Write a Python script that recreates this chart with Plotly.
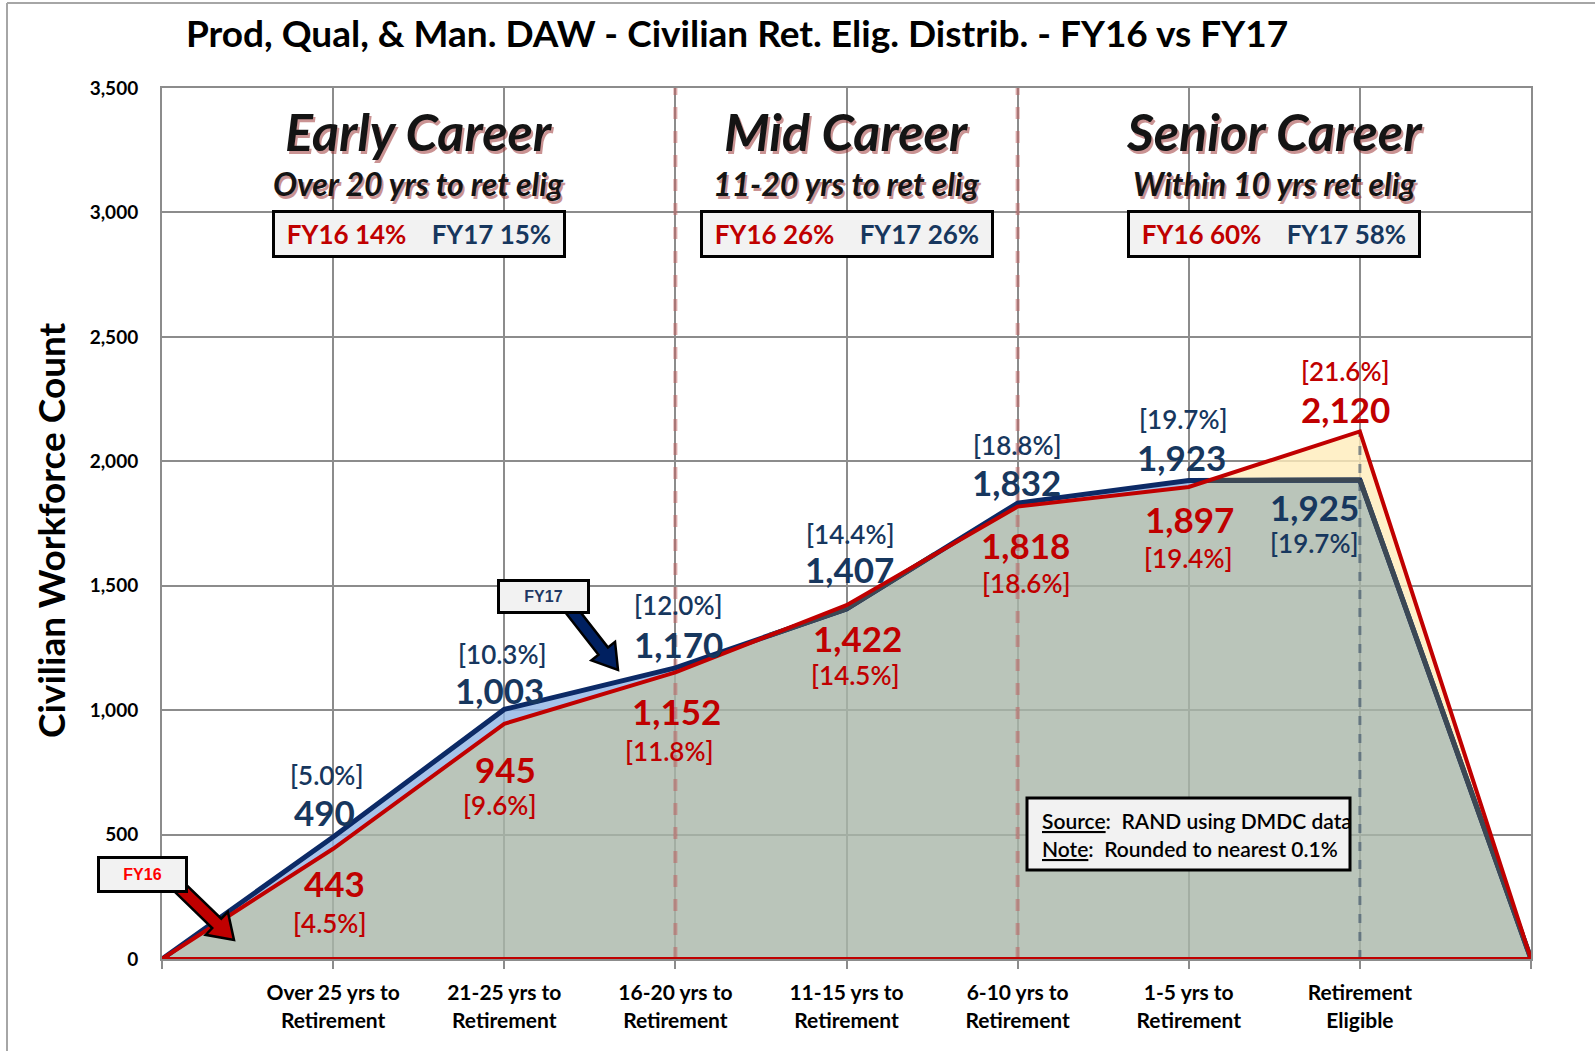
import math
import plotly.graph_objects as go

# ---------------- data ----------------
categories = ["Over 25 yrs to Retirement", "21-25 yrs to Retirement", "16-20 yrs to Retirement",
              "11-15 yrs to Retirement", "6-10 yrs to Retirement", "1-5 yrs to Retirement",
              "Retirement Eligible"]
tick_labels = ["Over 25 yrs to<br>Retirement", "21-25 yrs to<br>Retirement", "16-20 yrs to<br>Retirement",
               "11-15 yrs to<br>Retirement", "6-10 yrs to<br>Retirement", "1-5 yrs to<br>Retirement",
               "Retirement<br>Eligible"]
fy16_counts = [443, 945, 1152, 1422, 1818, 1897, 2120]
fy17_counts = [490, 1003, 1170, 1407, 1832, 1923, 1925]
fy16_pct = ["4.5%", "9.6%", "11.8%", "14.5%", "18.6%", "19.4%", "21.6%"]
fy17_pct = ["5.0%", "10.3%", "12.0%", "14.4%", "18.8%", "19.7%", "19.7%"]
career_titles = ["Early Career", "Mid Career", "Senior Career"]
career_subtitles = ["Over 20 yrs to ret elig", "11-20 yrs to ret elig", "Within 10 yrs ret elig"]
career_fy16_share = ["14%", "26%", "60%"]
career_fy17_share = ["15%", "26%", "58%"]
divider_categories = ["16-20 yrs to Retirement", "6-10 yrs to Retirement"]
dropline_category = "Retirement Eligible"
y_max = 3500
y_step = 500

# ---------------- styles / layout ----------------
W, H = 1595, 1051
L, R, T, B = 162, 1531, 88, 959
FONT = "Lato"
RED = "#C00000"
NAVY_LINE = "#0C2A66"
NAVY_TXT = "#17375E"
SLATE = "#3C4854"
GREY_FILL = "rgba(169,183,169,0.8)"
BLUE_FILL = "rgba(144,180,229,0.8)"
YELLOW_FILL = "rgba(255,236,186,0.8)"
GRID = "#8C8C8C"

career_x = [1.5, 4.0, 6.5]
fy17_value_shift = [(-9, 25), (-5, 19), (3, 24), (3, 40), (-1, 21), (-7, 23), (-45, -27)]
fy17_pct_shift = [(-6, 62), (-2, 55), (3, 63), (4, 75), (0, 58), (-5, 61), (-45, -63)]
fy16_value_shift = [(1, -34), (1, -45), (1, -39), (11, -33), (8, -38), (1, -32), (-14, 22)]
fy16_pct_shift = [(-3, -74), (-4, -81), (-6, -79), (9, -70), (9, -76), (0, -71), (-14, 60)]


def px(xp):
    return (xp - L) / (R - L)


def py(yp):
    return (B - yp) / (B - T)


def arrow_path(tail, tip, shaft=12, head_w=30, head_l=24):
    dx, dy = tip[0] - tail[0], tip[1] - tail[1]
    d = math.hypot(dx, dy)
    ux, uy = dx / d, dy / d
    nx, ny = -uy, ux
    nkx, nky = tip[0] - head_l * ux, tip[1] - head_l * uy
    pts = [(tail[0] + nx * shaft / 2, tail[1] + ny * shaft / 2),
           (nkx + nx * shaft / 2, nky + ny * shaft / 2),
           (nkx + nx * head_w / 2, nky + ny * head_w / 2),
           tip,
           (nkx - nx * head_w / 2, nky - ny * head_w / 2),
           (nkx - nx * shaft / 2, nky - ny * shaft / 2),
           (tail[0] - nx * shaft / 2, tail[1] - ny * shaft / 2)]
    return "M " + " L ".join(f"{px(a):.5f},{py(b):.5f}" for a, b in pts) + " Z"


n = len(categories)
xs = list(range(n + 2))
y16 = [0] + fy16_counts + [0]
y17 = [0] + fy17_counts + [0]

# merged points with crossings (for non-overlapping fills)
mx, m16, m17 = [], [], []
for i in range(len(xs) - 1):
    mx.append(xs[i]); m16.append(y16[i]); m17.append(y17[i])
    d0 = y16[i] - y17[i]
    d1 = y16[i + 1] - y17[i + 1]
    if d0 * d1 < 0:
        t = d0 / (d0 - d1)
        xc = xs[i] + t * (xs[i + 1] - xs[i])
        yc = y16[i] + t * (y16[i + 1] - y16[i])
        mx.append(xc); m16.append(yc); m17.append(yc)
mx.append(xs[-1]); m16.append(y16[-1]); m17.append(y17[-1])
mmin = [min(a, b) for a, b in zip(m16, m17)]

# FY17 line segments hidden behind FY16 fill (drawn slate)
sx, sy = [], []
for i in range(len(mx) - 1):
    if m16[i] >= m17[i] and m16[i + 1] >= m17[i + 1] and (m16[i] > m17[i] or m16[i + 1] > m17[i + 1]):
        sx += [mx[i], mx[i + 1], None]
        sy += [m17[i], m17[i + 1], None]

fig = go.Figure()

# fills
fig.add_trace(go.Scatter(x=mx, y=mmin, mode="lines", line=dict(width=0), fill="tozeroy",
                         fillcolor=GREY_FILL, hoverinfo="skip", showlegend=False))
fig.add_trace(go.Scatter(x=mx, y=m17, mode="lines", line=dict(width=0), fill="tonexty",
                         fillcolor=BLUE_FILL, hoverinfo="skip", showlegend=False))
fig.add_trace(go.Scatter(x=mx, y=mmin, mode="lines", line=dict(width=0),
                         hoverinfo="skip", showlegend=False))
fig.add_trace(go.Scatter(x=mx, y=m16, mode="lines", line=dict(width=0), fill="tonexty",
                         fillcolor=YELLOW_FILL, hoverinfo="skip", showlegend=False))

# divider dashed lines
for c in divider_categories:
    xi = categories.index(c) + 1
    fig.add_trace(go.Scatter(x=[xi, xi], y=[0, y_max], mode="lines",
                             line=dict(color="rgba(192,100,100,0.55)", width=4, dash="dash"),
                             hoverinfo="skip", showlegend=False))
di = categories.index(dropline_category)
fig.add_trace(go.Scatter(x=[di + 1, di + 1], y=[0, fy16_counts[di]], mode="lines",
                         line=dict(color="rgba(60,80,105,0.6)", width=3, dash="dash"),
                         hoverinfo="skip", showlegend=False))

# lines
fig.add_trace(go.Scatter(x=xs, y=y17, mode="lines", line=dict(color=NAVY_LINE, width=5),
                         hoverinfo="skip", showlegend=False))
fig.add_trace(go.Scatter(x=sx, y=sy, mode="lines", line=dict(color=SLATE, width=5),
                         hoverinfo="skip", showlegend=False))
fig.add_trace(go.Scatter(x=xs + [xs[0]], y=y16 + [y16[0]], mode="lines",
                         line=dict(color=RED, width=4), hoverinfo="skip", showlegend=False))

ann = []
# data labels
for i in range(n):
    ann.append(dict(x=i + 1, y=fy17_counts[i], xref="x", yref="y", showarrow=False,
                    xanchor="center", yanchor="middle", borderpad=0,
                    text=f"{fy17_counts[i]:,}", xshift=fy17_value_shift[i][0], yshift=fy17_value_shift[i][1],
                    font=dict(family=FONT, size=35, color=NAVY_TXT, weight="bold")))
    ann.append(dict(x=i + 1, y=fy17_counts[i], xref="x", yref="y", showarrow=False,
                    xanchor="center", yanchor="middle", borderpad=0,
                    text=f"[{fy17_pct[i]}]", xshift=fy17_pct_shift[i][0], yshift=fy17_pct_shift[i][1],
                    font=dict(family=FONT, size=26, color=NAVY_TXT, weight=600)))
    ann.append(dict(x=i + 1, y=fy16_counts[i], xref="x", yref="y", showarrow=False,
                    xanchor="center", yanchor="middle", borderpad=0,
                    text=f"{fy16_counts[i]:,}", xshift=fy16_value_shift[i][0], yshift=fy16_value_shift[i][1],
                    font=dict(family=FONT, size=35, color=RED, weight="bold")))
    ann.append(dict(x=i + 1, y=fy16_counts[i], xref="x", yref="y", showarrow=False,
                    xanchor="center", yanchor="middle", borderpad=0,
                    text=f"[{fy16_pct[i]}]", xshift=fy16_pct_shift[i][0], yshift=fy16_pct_shift[i][1],
                    font=dict(family=FONT, size=26, color=RED, weight=600)))

# career headings
for k in range(3):
    for dx, dy, col in [(2, -3, "rgba(150,40,40,0.5)"), (0, 0, "#141414")]:
        ann.append(dict(x=career_x[k], y=py(131), xref="x", yref="paper", showarrow=False,
                        xanchor="center", yanchor="middle",
                        text=career_titles[k], xshift=dx, yshift=dy,
                        font=dict(family=FONT, size=52, color=col, weight="bold", style="italic")))
        ann.append(dict(x=career_x[k], y=py(184), xref="x", yref="paper", showarrow=False,
                        xanchor="center", yanchor="middle",
                        text=career_subtitles[k], xshift=dx, yshift=dy,
                        font=dict(family=FONT, size=32, color=col, weight="bold", style="italic")))
    ann.append(dict(x=career_x[k], y=py(234), xref="x", yref="paper", showarrow=False,
                    xanchor="center", yanchor="middle",
                    text=f"<span style='color:{RED}'>FY16 {career_fy16_share[k]}</span>&nbsp;&nbsp;&nbsp;&nbsp;"
                         f"<span style='color:{NAVY_TXT}'>FY17 {career_fy17_share[k]}</span>",
                    bgcolor="#F2F2F2", bordercolor="black", borderwidth=3, width=286, height=40,
                    font=dict(family=FONT, size=26, weight="bold")))

# y-axis title
ann.append(dict(x=px(50), y=py(530), xref="paper", yref="paper", showarrow=False, textangle=-90,
                xanchor="center", yanchor="middle",
                text="Civilian Workforce Count", font=dict(family=FONT, size=37, color="black", weight="bold")))

# callout boxes
ann.append(dict(x=px(543), y=py(596), xref="paper", yref="paper", showarrow=False, text="FY17",
                xanchor="center", yanchor="middle",
                bgcolor="#F2F2F2", bordercolor="black", borderwidth=3, width=85, height=27,
                font=dict(family="Liberation Sans", size=16, color="#1F3864", weight="bold")))
ann.append(dict(x=px(142), y=py(874), xref="paper", yref="paper", showarrow=False, text="FY16",
                xanchor="center", yanchor="middle",
                bgcolor="#F2F2F2", bordercolor="black", borderwidth=3, width=83, height=29,
                font=dict(family="Liberation Sans", size=16, color="#FF0000", weight="bold")))

# source note
ann.append(dict(x=px(1040), y=py(820), xref="paper", yref="paper", showarrow=False,
                xanchor="left", yanchor="middle",
                text="<u>Source</u>:&nbsp;&nbsp;RAND using DMDC data",
                font=dict(family=FONT, size=21, color="black", weight=600)))
ann.append(dict(x=px(1040), y=py(848), xref="paper", yref="paper", showarrow=False,
                xanchor="left", yanchor="middle",
                text="<u>Note</u>:&nbsp;&nbsp;Rounded to nearest 0.1%",
                font=dict(family=FONT, size=21, color="black", weight=600)))

shapes = [
    dict(type="rect", xref="paper", yref="paper", x0=px(1027), x1=px(1350), y0=py(870), y1=py(798),
         line=dict(color="black", width=3), fillcolor="#F2F2F2", layer="above"),
    dict(type="path", xref="paper", yref="paper", path=arrow_path((568, 606), (618, 670)),
         line=dict(color="black", width=2.5), fillcolor="#002060", layer="above"),
    dict(type="path", xref="paper", yref="paper", path=arrow_path((176, 884), (234, 940), shaft=13, head_w=32),
         line=dict(color="black", width=2.5), fillcolor="#C00000", layer="above"),
    dict(type="line", xref="paper", yref="paper", x0=px(7), x1=px(1700), y0=py(3), y1=py(3),
         line=dict(color="#A6A6A6", width=2), layer="below"),
    dict(type="line", xref="paper", yref="paper", x0=px(7), x1=px(7), y0=py(3), y1=py(1100),
         line=dict(color="#A6A6A6", width=2), layer="below"),
]

fig.update_layout(
    width=W, height=H, autosize=False,
    margin=dict(l=L, r=W - R, t=T, b=H - B),
    paper_bgcolor="white", plot_bgcolor="white",
    title=dict(text="Prod, Qual, &amp; Man. DAW - Civilian Ret. Elig. Distrib. - FY16 vs FY17",
               x=737 / W, xref="container", xanchor="center",
               y=1 - 34 / H, yref="container", yanchor="middle",
               font=dict(family=FONT, size=37, color="black", weight="bold")),
    annotations=ann, shapes=shapes, showlegend=False,
    xaxis=dict(range=[0, n + 1], tickmode="array", tickvals=xs, ticktext=[""] + tick_labels + [""],
               showgrid=True, gridcolor=GRID, gridwidth=1.5, zeroline=False,
               showline=True, linecolor=GRID, linewidth=2, mirror=True,
               ticks="outside", ticklen=8, tickcolor=GRID, tickwidth=1.5, ticklabelstandoff=6,
               tickfont=dict(family=FONT, size=21, color="black", weight="bold")),
    yaxis=dict(range=[0, y_max], dtick=y_step, tick0=0, tickformat=",",
               showgrid=True, gridcolor=GRID, gridwidth=1.5, zeroline=False,
               showline=True, linecolor=GRID, linewidth=2, mirror=True,
               ticks="", ticklabelstandoff=18,
               tickfont=dict(family=FONT, size=19, color="black", weight="bold")),
)

fig.write_html("out.html", config={"displayModeBar": False},
               post_script="document.body.style.margin='0';")
